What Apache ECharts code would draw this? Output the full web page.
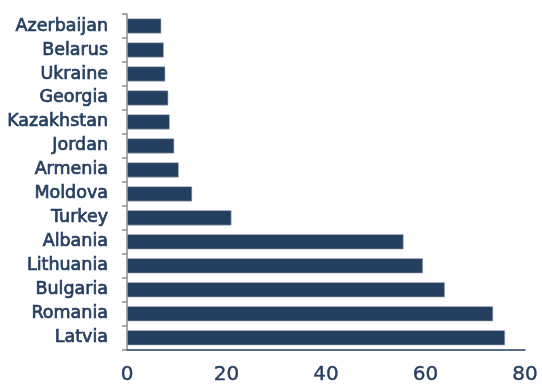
<!DOCTYPE html>
<html><head><meta charset="utf-8">
<script src="https://cdn.jsdelivr.net/npm/echarts@6/dist/echarts.min.js"></script>
<style>html,body{margin:0;padding:0;background:#fff}#c{width:542px;height:385px}</style>
</head><body><div id="c"></div>
<script>
const categories = ["Azerbaijan","Belarus","Ukraine","Georgia","Kazakhstan","Jordan","Armenia","Moldova","Turkey","Albania","Lithuania","Bulgaria","Romania","Latvia"];
const values = [6.9, 7.4, 7.7, 8.3, 8.6, 9.5, 10.4, 13.1, 21.0, 55.6, 59.5, 63.9, 73.6, 76.0];
const xTicks = [0, 20, 40, 60, 80];

const navy = '#253f61';
const chart = echarts.init(document.getElementById('c'), null, {renderer: 'canvas'});
chart.setOption({
  animation: false,
  grid: {left: 127, right: 17, top: 14, bottom: 34, containLabel: false},
  xAxis: {
    type: 'value', min: xTicks[0], max: xTicks[xTicks.length - 1], interval: 20,
    splitLine: {show: false},
    axisLine: {show: true, lineStyle: {color: navy, width: 1.5}},
    axisTick: {show: false},
    axisLabel: {color: navy, fontSize: 20, fontFamily: 'DejaVu Sans', margin: 15,
      textBorderColor: navy, textBorderWidth: 0.4}
  },
  yAxis: {
    type: 'category', data: categories, inverse: true,
    axisLine: {show: true, lineStyle: {color: '#8c8c8c', width: 1.5}},
    axisTick: {show: true, length: 5, lineStyle: {color: '#8c8c8c', width: 1.5}},
    axisLabel: {color: navy, fontSize: 17.5, fontFamily: 'DejaVu Sans', margin: 19,
      textBorderColor: navy, textBorderWidth: 0.7}
  },
  series: [{
    type: 'bar', data: values, barCategoryGap: '37%',
    itemStyle: {color: navy, borderColor: '#aab8ca', borderWidth: 0.6}
  }]
});
</script></body></html>
